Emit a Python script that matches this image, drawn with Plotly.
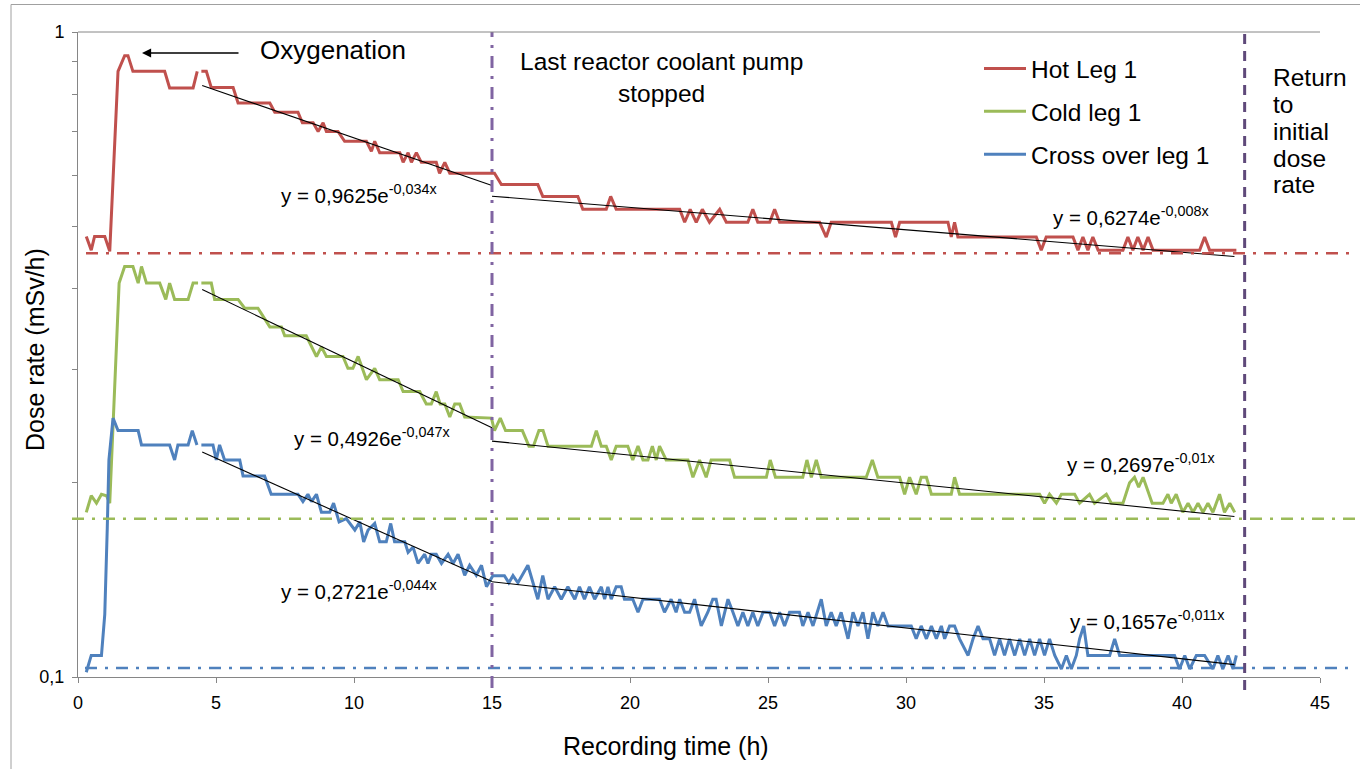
import numpy as np
import plotly.graph_objects as go

# ---------------- data ----------------
# Hot Leg 1 (red): part before the break, then part after the break
hot_x_a = [0.30, 0.48, 0.60, 0.97, 1.15, 1.33, 1.45, 1.69, 1.81, 1.99, 3.14, 3.32, 4.17, 4.32]
hot_y_a = [0.482, 0.459, 0.482, 0.482, 0.457, 0.689, 0.869, 0.919, 0.919, 0.869, 0.869, 0.819, 0.819, 0.869]
hot_x_b = [4.47, 4.65, 4.83, 5.62, 5.80, 6.95, 7.13, 7.97, 8.13, 8.52, 8.70, 8.88, 9.00, 9.42, 9.66,
           10.45, 10.63, 10.75, 10.93, 11.66, 11.78, 11.96, 12.08, 12.26, 12.44, 12.98, 13.10, 13.29,
           13.47, 15.09, 15.34, 16.66, 16.84, 18.11, 18.29, 19.14, 19.30, 19.50, 21.80, 21.98, 22.18,
           22.40, 22.62, 22.88, 23.25, 23.49, 24.27, 24.45, 24.63, 25.06, 25.24, 25.42, 26.87, 27.11,
           27.29, 29.47, 29.62, 29.77, 31.52, 31.64, 31.76, 31.88, 34.72, 34.90, 35.08, 36.05, 36.23,
           36.41, 36.59, 36.77, 36.96, 37.86, 38.04, 38.22, 38.40, 38.59, 38.77, 38.95, 40.64, 40.82,
           41.00, 41.97]
hot_y_b = [0.869, 0.869, 0.820, 0.820, 0.776, 0.776, 0.751, 0.751, 0.723, 0.723, 0.701, 0.723, 0.701,
           0.701, 0.677, 0.677, 0.653, 0.677, 0.650, 0.650, 0.628, 0.650, 0.628, 0.650, 0.628, 0.628,
           0.604, 0.628, 0.604, 0.604, 0.580, 0.580, 0.556, 0.556, 0.531, 0.531, 0.556, 0.531, 0.531,
           0.507, 0.531, 0.507, 0.531, 0.507, 0.531, 0.507, 0.507, 0.531, 0.507, 0.507, 0.531, 0.507,
           0.507, 0.481, 0.507, 0.507, 0.481, 0.507, 0.507, 0.481, 0.507, 0.481, 0.481, 0.459, 0.481,
           0.481, 0.459, 0.481, 0.459, 0.481, 0.459, 0.459, 0.481, 0.459, 0.481, 0.459, 0.481, 0.459,
           0.459, 0.481, 0.459, 0.459]

# Cold leg 1 (green)
cold_x_a = [0.30, 0.48, 0.67, 0.85, 1.03, 1.15, 1.49, 1.69, 1.99, 2.18, 2.30, 2.48, 2.96, 3.18, 3.32,
            3.50, 3.99, 4.17, 4.35]
cold_y_a = [0.180, 0.191, 0.186, 0.192, 0.191, 0.186, 0.408, 0.433, 0.433, 0.408, 0.433, 0.408, 0.408,
            0.385, 0.408, 0.385, 0.385, 0.408, 0.408]
cold_x_b = [4.47, 4.83, 4.95, 5.80, 6.04, 6.52, 6.95, 7.37, 7.49, 8.27, 8.64, 8.82, 9.00, 9.60, 9.78,
            9.96, 10.15, 10.45, 10.75, 10.93, 11.60, 11.78, 12.38, 12.62, 12.80, 12.98, 13.12, 13.29,
            13.47, 13.65, 13.83, 14.01, 14.98, 15.09, 15.30, 15.49, 16.10, 16.34, 16.50, 16.70, 16.85,
            17.03, 18.60, 18.78, 18.96, 19.14, 19.32, 19.50, 19.92, 20.10, 20.29, 20.47, 20.65, 20.81,
            20.95, 21.07, 21.31, 22.10, 22.28, 22.52, 22.76, 22.94, 23.61, 23.79, 24.94, 25.08, 25.27,
            26.26, 26.41, 26.57, 26.75, 26.93, 28.56, 28.78, 28.98, 29.77, 29.95, 30.13, 30.37, 30.55,
            30.74, 30.92, 31.64, 31.76, 31.94, 34.84, 35.02, 35.20, 35.45, 35.63, 36.11, 36.29, 36.65,
            36.83, 37.26, 37.44, 37.86, 38.10, 38.28, 38.43, 38.59, 38.92, 39.31, 39.49, 39.61, 39.79,
            40.03, 40.22, 40.40, 40.58, 40.76, 40.94, 41.12, 41.36, 41.54, 41.73, 41.91]
cold_y_b = [0.408, 0.408, 0.385, 0.385, 0.373, 0.373, 0.349, 0.349, 0.338, 0.338, 0.314, 0.325, 0.314,
            0.314, 0.301, 0.301, 0.314, 0.289, 0.301, 0.289, 0.289, 0.277, 0.277, 0.265, 0.265, 0.277,
            0.265, 0.265, 0.253, 0.265, 0.265, 0.253, 0.252, 0.241, 0.252, 0.241, 0.241, 0.228, 0.228,
            0.241, 0.241, 0.228, 0.228, 0.241, 0.228, 0.228, 0.217, 0.228, 0.228, 0.217, 0.228, 0.217,
            0.217, 0.228, 0.217, 0.228, 0.217, 0.217, 0.204, 0.217, 0.204, 0.217, 0.217, 0.204, 0.204,
            0.217, 0.204, 0.204, 0.217, 0.204, 0.217, 0.204, 0.204, 0.217, 0.204, 0.204, 0.192, 0.204,
            0.192, 0.204, 0.204, 0.192, 0.192, 0.204, 0.192, 0.192, 0.186, 0.192, 0.186, 0.192, 0.192,
            0.186, 0.192, 0.186, 0.192, 0.186, 0.186, 0.200, 0.204, 0.197, 0.204, 0.186, 0.186, 0.192,
            0.186, 0.192, 0.180, 0.186, 0.180, 0.186, 0.180, 0.186, 0.180, 0.192, 0.180, 0.186, 0.180]

# Cross over leg 1 (blue)
cross_x_a = [0.30, 0.48, 0.85, 0.97, 1.06, 1.12, 1.27, 1.45, 2.18, 2.30, 3.32, 3.50, 3.62, 3.99, 4.14, 4.31]
cross_y_a = [0.1017, 0.108, 0.108, 0.125, 0.170, 0.217, 0.252, 0.241, 0.241, 0.229, 0.229, 0.217,
             0.229, 0.229, 0.241, 0.229]
cross_x_b = [4.47, 4.89, 5.01, 5.13, 5.31, 5.86, 5.98, 6.76, 7.00, 7.97, 8.15, 8.33, 8.46, 8.64, 8.82,
             9.12, 9.26, 9.46, 9.72, 10.03, 10.21, 10.35, 10.51, 10.75, 10.93, 11.17, 11.33, 11.47,
             11.84, 11.96, 12.14, 12.32, 12.56, 12.68, 12.80, 12.98, 13.17, 13.41, 13.59, 13.77, 14.01,
             14.19, 14.43, 14.62, 14.80, 15.03, 15.45, 15.61, 15.76, 15.94, 16.30, 16.66, 16.84, 17.03,
             17.27, 17.51, 17.75, 18.00, 18.17, 18.35, 18.53, 18.72, 18.96, 19.08, 19.20, 19.32, 19.50,
             19.68, 19.80, 20.10, 20.29, 20.47, 21.07, 21.25, 21.49, 21.67, 21.80, 21.98, 22.16, 22.34,
             22.58, 22.82, 23.00, 23.12, 23.31, 23.55, 23.73, 23.91, 24.09, 24.27, 24.45, 24.63, 24.82,
             25.06, 25.24, 25.42, 25.60, 25.78, 26.14, 26.26, 26.45, 26.63, 26.93, 27.11, 27.29, 27.47,
             27.65, 27.90, 28.08, 28.26, 28.44, 28.62, 28.80, 28.98, 29.17, 29.35, 30.19, 30.37, 30.55,
             30.74, 30.92, 31.10, 31.28, 31.40, 31.58, 31.76, 31.94, 32.25, 32.43, 32.61, 32.79, 33.03,
             33.21, 33.39, 33.57, 33.75, 33.94, 34.12, 34.30, 34.48, 34.66, 34.84, 35.02, 35.20, 35.39,
             35.63, 35.81, 35.99, 36.17, 36.29, 36.44, 36.59, 37.38, 37.56, 37.74, 39.73, 39.91, 40.10,
             40.28, 40.52, 40.82, 41.12, 41.30, 41.48, 41.67, 41.85, 41.97]
cross_y_b = [0.229, 0.229, 0.217, 0.229, 0.217, 0.217, 0.205, 0.205, 0.192, 0.192, 0.187, 0.192, 0.187,
             0.192, 0.180, 0.180, 0.186, 0.174, 0.176, 0.169, 0.174, 0.162, 0.169, 0.173, 0.162, 0.162,
             0.173, 0.162, 0.162, 0.156, 0.159, 0.150, 0.155, 0.150, 0.155, 0.155, 0.150, 0.155, 0.150,
             0.155, 0.1438, 0.149, 0.1438, 0.149, 0.138, 0.1436, 0.1436, 0.140, 0.1436, 0.140, 0.149,
             0.132, 0.1436, 0.132, 0.138, 0.132, 0.138, 0.132, 0.138, 0.132, 0.138, 0.132, 0.138, 0.132,
             0.138, 0.132, 0.138, 0.138, 0.132, 0.132, 0.126, 0.132, 0.132, 0.126, 0.132, 0.126, 0.132,
             0.126, 0.126, 0.132, 0.120, 0.126, 0.132, 0.132, 0.120, 0.132, 0.126, 0.120, 0.126, 0.120,
             0.126, 0.120, 0.126, 0.126, 0.120, 0.126, 0.120, 0.126, 0.126, 0.120, 0.126, 0.120, 0.132,
             0.120, 0.126, 0.120, 0.126, 0.1146, 0.126, 0.120, 0.126, 0.1146, 0.126, 0.120, 0.126, 0.120,
             0.120, 0.1146, 0.120, 0.1146, 0.120, 0.1146, 0.120, 0.1146, 0.120, 0.120, 0.1146, 0.108,
             0.1146, 0.120, 0.1146, 0.1146, 0.108, 0.1146, 0.108, 0.1146, 0.108, 0.1146, 0.108, 0.1146,
             0.108, 0.1146, 0.108, 0.1146, 0.108, 0.1029, 0.108, 0.1029, 0.108, 0.1146, 0.120, 0.108,
             0.108, 0.1146, 0.108, 0.108, 0.1029, 0.108, 0.1029, 0.108, 0.108, 0.1029, 0.108, 0.1029,
             0.108, 0.1029, 0.108]

# Exponential trendlines y = a * exp(b x) fitted over [x_start, x_end]
trend_a = [0.9625, 0.6274, 0.4926, 0.2697, 0.2721, 0.1657]
trend_b = [-0.034, -0.008, -0.047, -0.010, -0.044, -0.011]
trend_x0 = [4.5, 15.0, 4.5, 15.0, 4.5, 15.0]
trend_x1 = [15.0, 41.9, 15.0, 41.9, 15.0, 41.9]
trend_labels = ["y = 0,9625e<sup>-0,034x</sup>", "y = 0,6274e<sup>-0,008x</sup>",
                "y = 0,4926e<sup>-0,047x</sup>", "y = 0,2697e<sup>-0,01x</sup>",
                "y = 0,2721e<sup>-0,044x</sup>", "y = 0,1657e<sup>-0,011x</sup>"]

# Initial dose rate levels (horizontal dash-dot lines)
initial_levels = [0.454, 0.176, 0.1033]
# Event times (h)
event_pump_stop = 15.0
event_return = 42.27

x_ticks = [0, 5, 10, 15, 20, 25, 30, 35, 40, 45]
y_ticks = [0.1, 1]
y_ticktext = ["0,1", "1"]
y_minor = [0.2, 0.3, 0.4, 0.5, 0.6, 0.7, 0.8, 0.9]

# ---------------- style ----------------
RED, GREEN, BLUE = "#C0504D", "#9BBB59", "#4F81BD"
PURPLE, DPURPLE = "#8064A2", "#5F497A"
AXIS = "#868686"
FONT = "Liberation Sans, Arial, sans-serif"
W, H = 1360, 769
ML, MR, MT, MB = 78, 40, 32, 92
PW, PH = W - ML - MR, H - MT - MB
DASHDOT = "12px,8px,3px,8px"


def px(xp):
    return (xp - ML) / PW


def py(yp):
    return (H - MB - yp) / PH


fig = go.Figure()

series = [("Hot Leg 1", RED, hot_x_a, hot_y_a, hot_x_b, hot_y_b, "a"),
          ("Cold leg 1", GREEN, cold_x_a, cold_y_a, cold_x_b, cold_y_b, "b"),
          ("Cross over leg 1", BLUE, cross_x_a, cross_y_a, cross_x_b, cross_y_b, "c")]
for name, col, xa, ya, xb, yb, grp in series:
    fig.add_trace(go.Scatter(x=xa + [None] + xb, y=ya + [None] + yb, mode="lines", name=name,
                             line=dict(color=col, width=3), legendgroup=grp, connectgaps=False))

for a, b, x0, x1 in zip(trend_a, trend_b, trend_x0, trend_x1):
    tx = np.linspace(x0, x1, 60)
    fig.add_trace(go.Scatter(x=tx, y=a * np.exp(b * tx), mode="lines", showlegend=False,
                             line=dict(color="black", width=1.1), hoverinfo="skip"))

shapes = []
lvl_cols = [RED, GREEN, BLUE]
lvl_x0 = [px(86), px(72), px(85)]
for lv, c, x0 in zip(initial_levels, lvl_cols, lvl_x0):
    shapes.append(dict(type="line", xref="paper", yref="y", x0=x0, x1=px(1356),
                       y0=lv, y1=lv, line=dict(color=c, width=2.5, dash=DASHDOT), layer="above"))
# vertical event lines
shapes.append(dict(type="line", xref="x", yref="paper", x0=event_pump_stop, x1=event_pump_stop,
                   y0=py(688), y1=1, line=dict(color=PURPLE, width=3, dash=DASHDOT),
                   layer="above"))
shapes.append(dict(type="line", xref="x", yref="paper", x0=event_return, x1=event_return,
                   y0=py(690), y1=1, line=dict(color=DPURPLE, width=3, dash="10px,7px"),
                   layer="above"))
# plot-area top line and outer frame
shapes.append(dict(type="line", xref="paper", yref="paper", x0=0, x1=1, y0=1, y1=1,
                   line=dict(color=AXIS, width=1)))
shapes.append(dict(type="line", xref="paper", yref="paper", x0=px(11), x1=px(1362), y0=py(4.5),
                   y1=py(4.5), line=dict(color="#A0A0A0", width=1)))
shapes.append(dict(type="line", xref="paper", yref="paper", x0=px(11), x1=px(11), y0=py(4.5),
                   y1=py(772), line=dict(color="#A0A0A0", width=1)))

ann = []
eq_pos = [(359, 194), (1131, 216), (372, 437), (1141, 463), (359, 590), (1147, 620)]
for txt, (cx, cy) in zip(trend_labels, eq_pos):
    ann.append(dict(text=txt, xref="paper", yref="paper", x=px(cx), y=py(cy), showarrow=False,
                    xanchor="center", yanchor="middle", font=dict(size=20.5, color="black")))
ann.append(dict(text="Oxygenation", xref="paper", yref="paper", x=px(333), y=py(50),
                showarrow=False, xanchor="center", yanchor="middle", font=dict(size=26)))
ann.append(dict(text="", xref="paper", yref="paper", x=px(142), y=py(53), ax=98, ay=0,
                showarrow=True, arrowhead=2, arrowsize=1.4, arrowwidth=1.3, arrowcolor="black"))
ann.append(dict(text="Last reactor coolant pump<br>stopped", xref="paper", yref="paper",
                x=px(661), y=py(77), showarrow=False, xanchor="center", yanchor="middle",
                align="center", font=dict(size=24.5)))
for word, cy in zip(["Return", "to", "initial", "dose", "rate"], [77, 104, 131, 158, 185]):
    ann.append(dict(text=word, xref="paper", yref="paper", x=px(1271), y=py(cy), showarrow=False,
                    xanchor="left", yanchor="middle", font=dict(size=24.5)))
ann.append(dict(text="Recording time (h)", xref="paper", yref="paper", x=px(666), y=py(746),
                showarrow=False, xanchor="center", yanchor="middle", font=dict(size=25)))
ann.append(dict(text="Dose rate (mSv/h)", xref="paper", yref="paper", x=px(35), y=py(350),
                showarrow=False, xanchor="center", yanchor="middle", textangle=-90,
                font=dict(size=25)))

fig.update_layout(
    width=W, height=H, margin=dict(l=ML, r=MR, t=MT, b=MB, autoexpand=False),
    paper_bgcolor="white", plot_bgcolor="white",
    font=dict(family=FONT, color="black", size=18),
    shapes=shapes, annotations=ann,
    legend=dict(x=px(979), y=py(46), xanchor="left", yanchor="top", bgcolor="rgba(0,0,0,0)",
                font=dict(size=24.5), tracegroupgap=8, itemwidth=42),
    xaxis=dict(range=[0, 45], tickvals=x_ticks, showgrid=False, zeroline=False, showline=True,
               linecolor=AXIS, linewidth=1, ticks="outside", ticklen=5, tickcolor=AXIS,
               tickfont=dict(size=18), ticklabelstandoff=4, automargin=False),
    yaxis=dict(type="log", range=[-1, 0], tickvals=y_ticks, ticktext=y_ticktext, showgrid=False,
               zeroline=False, showline=True, linecolor=AXIS, linewidth=1, ticks="outside",
               ticklen=5, tickcolor=AXIS, tickfont=dict(size=18), ticklabelstandoff=4,
               automargin=False,
               minor=dict(tickvals=y_minor, ticks="outside", ticklen=5, tickcolor=AXIS,
                          showgrid=False)),
)

fig.write_html("out.html", config={"displayModeBar": False},
               post_script="document.body.style.margin='0';"
                           "document.body.style.overflow='hidden';")
